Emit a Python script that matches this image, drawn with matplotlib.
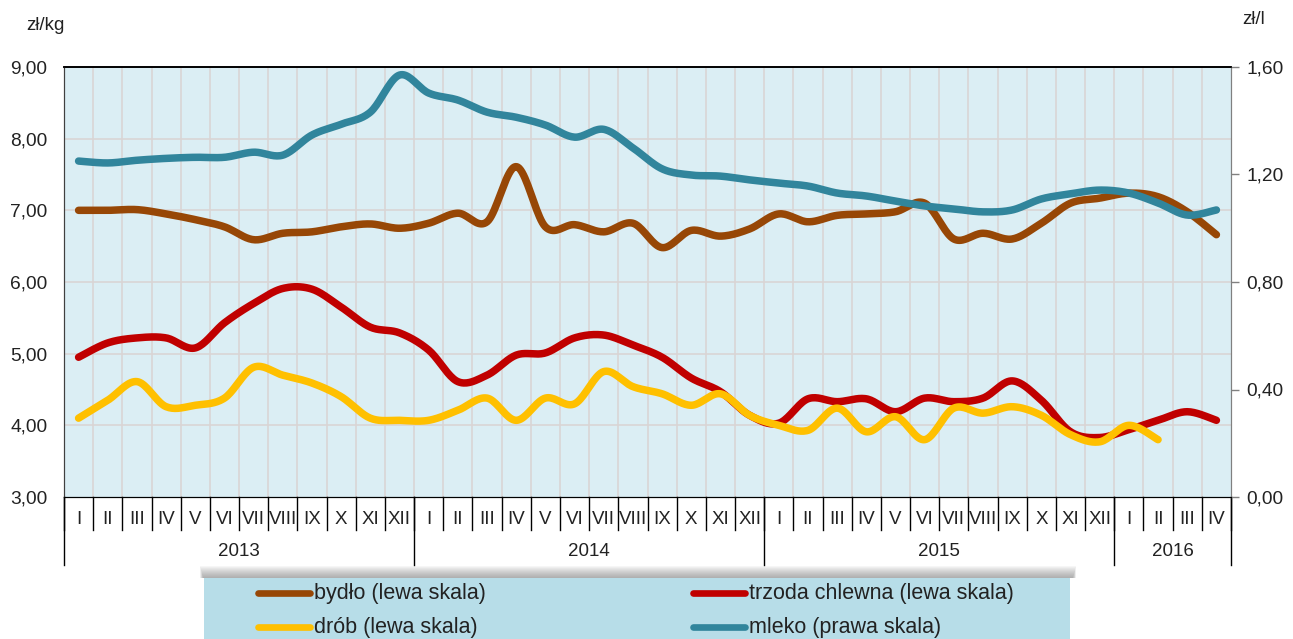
import numpy as np
import matplotlib
matplotlib.use("Agg")
import matplotlib.pyplot as plt
from matplotlib.lines import Line2D
from matplotlib.patches import Rectangle
from matplotlib.ticker import FuncFormatter

plt.rcParams['font.family'] = ['Liberation Sans', 'DejaVu Sans']

# ---------------- data ----------------
months = ["I", "II", "III", "IV", "V", "VI", "VII", "VIII", "IX", "X", "XI", "XII"] * 3 + ["I", "II", "III", "IV"]
years = ["2013", "2014", "2015", "2016"]
year_lengths = [12, 12, 12, 4]

bydlo = [7.00, 7.00, 7.01, 6.95, 6.87, 6.77, 6.59, 6.68, 6.70, 6.77, 6.81, 6.75,
         6.82, 6.96, 6.84, 7.61, 6.77, 6.80, 6.70, 6.82, 6.48, 6.72, 6.64, 6.74,
         6.95, 6.84, 6.93, 6.95, 6.98, 7.10, 6.60, 6.68, 6.60, 6.82, 7.10, 7.17,
         7.24, 7.19, 6.98, 6.66]
trzoda = [4.95, 5.15, 5.22, 5.22, 5.08, 5.43, 5.70, 5.91, 5.90, 5.65, 5.37, 5.29,
          5.05, 4.61, 4.70, 4.98, 5.01, 5.22, 5.26, 5.12, 4.95, 4.66, 4.47, 4.14,
          4.03, 4.37, 4.33, 4.37, 4.19, 4.38, 4.33, 4.38, 4.62, 4.35, 3.91, 3.83,
          3.94, 4.07, 4.19, 4.07]
drob = [4.10, 4.35, 4.61, 4.26, 4.28, 4.38, 4.81, 4.70, 4.59, 4.40, 4.10, 4.07,
        4.07, 4.21, 4.38, 4.07, 4.38, 4.30, 4.75, 4.54, 4.44, 4.28, 4.44, 4.14,
        4.00, 3.93, 4.24, 3.91, 4.12, 3.80, 4.24, 4.17, 4.26, 4.14, 3.87, 3.77,
        4.00, 3.80]
mleko = [1.250, 1.243, 1.253, 1.260, 1.264, 1.264, 1.283, 1.272, 1.347, 1.387, 1.432, 1.570,
         1.503, 1.477, 1.432, 1.413, 1.384, 1.339, 1.368, 1.299, 1.221, 1.198, 1.194, 1.180,
         1.168, 1.157, 1.131, 1.120, 1.101, 1.083, 1.072, 1.061, 1.068, 1.109, 1.128, 1.142,
         1.131, 1.094, 1.049, 1.068]

series_left = [("bydło (lewa skala)", bydlo, "#974706"),
               ("trzoda chlewna (lewa skala)", trzoda, "#C00000"),
               ("drób (lewa skala)", drob, "#FFC000")]
series_right = [("mleko (prawa skala)", mleko, "#31859C")]


def smooth(x, y, n=20):
    """Bezier smoothing through the points (like a spreadsheet 'smoothed line')."""
    x = np.asarray(x, float)
    y = np.asarray(y, float)
    xs, ys = [], []
    for i in range(len(x) - 1):
        x0, y0 = (x[i - 1], y[i - 1]) if i > 0 else (x[i], y[i])
        x1, y1 = x[i], y[i]
        x2, y2 = x[i + 1], y[i + 1]
        x3, y3 = (x[i + 2], y[i + 2]) if i + 2 < len(x) else (x2, y2)
        c1x, c1y = x1 + (x2 - x0) / 6, y1 + (y2 - y0) / 6
        c2x, c2y = x2 - (x3 - x1) / 6, y2 - (y3 - y1) / 6
        t = np.linspace(0, 1, n, endpoint=(i == len(x) - 2))
        b0, b1, b2, b3 = (1 - t) ** 3, 3 * (1 - t) ** 2 * t, 3 * (1 - t) * t ** 2, t ** 3
        xs.append(b0 * x1 + b1 * c1x + b2 * c2x + b3 * x2)
        ys.append(b0 * y1 + b1 * c1y + b2 * c2y + b3 * y2)
    return np.concatenate(xs), np.concatenate(ys)


W, H = 1293, 639
fig = plt.figure(figsize=(W / 100, H / 100), dpi=100)
L, R, T, B = 64, 1231, 67, 497
ax = fig.add_axes([L / W, 1 - B / H, (R - L) / W, (B - T) / H])
ax2 = ax.twinx()

ax.set_facecolor("#DBEEF4")
n = len(months)
ax.set_xlim(0, n)
ax.set_ylim(3, 9)
ax2.set_ylim(0, 1.6)

# grid
ax.set_yticks(np.arange(3, 9.01, 1))
for xv in range(1, n):
    ax.axvline(xv, color="#D9D5D5", lw=1.2, zorder=0)
for yv in range(4, 9):
    ax.axhline(yv, color="#D9D5D5", lw=1.2, zorder=0)

for label, vals, col in series_left:
    xs = np.arange(len(vals)) + 0.5
    sx, sy = smooth(xs, vals)
    ax.plot(sx, sy, color=col, lw=5.4, solid_capstyle="round", zorder=3)
for label, vals, col in series_right:
    xs = np.arange(len(vals)) + 0.5
    sx, sy = smooth(xs, vals)
    ax2.plot(sx, sy, color=col, lw=5.4, solid_capstyle="round", zorder=3)

fmt = FuncFormatter(lambda v, p: f"{v:.2f}".replace(".", ","))
ax.yaxis.set_major_formatter(fmt)
ax2.yaxis.set_major_formatter(fmt)
ax2.set_yticks(np.arange(0, 1.61, 0.4))
ax.tick_params(axis="y", length=0, pad=12, labelsize=13.8, labelcolor="#222222")
ax2.tick_params(axis="y", length=6, width=1, color="#808080", pad=5, labelsize=13.8, labelcolor="#222222")
ax.set_xticks([])

for a in (ax, ax2):
    a.spines["top"].set_color("#000000")
    a.spines["bottom"].set_color("#000000")
    a.spines["left"].set_color("#404040")
    a.spines["right"].set_color("#808080")
    a.spines["top"].set_linewidth(1.2)

# x axis labels: months and years
trans = ax.get_xaxis_transform()
mh = (530 - B) / (B - T)
yh = (565 - B) / (B - T)
for i, m in enumerate(months):
    ax.text(i + 0.5, -(520 - B) / (B - T), m, transform=trans, ha="center", va="center",
            fontsize=13.5, color="#222222")
for xv in range(0, n + 1):
    ax.plot([xv, xv], [0, -mh], transform=trans, color="#000000", lw=1.0, clip_on=False)
start = 0
bounds = [0]
for yr, ln in zip(years, year_lengths):
    ax.text(start + ln / 2, -(552 - B) / (B - T), yr, transform=trans, ha="center", va="center",
            fontsize=13.5, color="#222222")
    start += ln
    bounds.append(start)
for xv in bounds:
    ax.plot([xv, xv], [0, -yh], transform=trans, color="#000000", lw=1.0, clip_on=False)

fig.text(45 / W, 1 - 25 / H, "zł/kg", ha="center", va="center", fontsize=13.5, color="#222222")
fig.text(1254 / W, 1 - 20 / H, "zł/l", ha="center", va="center", fontsize=13.5, color="#222222")

# legend box with soft shadow
lx0, lx1, ltop = 204, 1070, 578
for k in range(12):
    fig.add_artist(Rectangle(((lx0 - 4 + k * 0.3) / W, (H - ltop) / H), (lx1 - lx0 + 10 - k * 0.6) / W,
                             (12 - k) / H, transform=fig.transFigure, facecolor="#606060",
                             alpha=0.05, edgecolor="none", zorder=1))
fig.add_artist(Rectangle((lx0 / W, 0), (lx1 - lx0) / W, (H - ltop) / H, transform=fig.transFigure,
                         facecolor="#B7DDE8", edgecolor="none", zorder=2))
pos = [(258, 593), (693, 593), (258, 627), (693, 627)]
order = [series_left[0], series_left[1], series_left[2], series_right[0]]
for (label, vals, col), (px, py) in zip(order, pos):
    fig.add_artist(Line2D([px / W, (px + 52) / W], [1 - py / H, 1 - py / H], transform=fig.transFigure,
                          color=col, lw=4.8, solid_capstyle="round", zorder=3))
    fig.text((px + 56) / W, 1 - py / H, label, ha="left", va="center", fontsize=15.5,
             color="#222222", zorder=4)

fig.savefig("out.png", dpi=100)
